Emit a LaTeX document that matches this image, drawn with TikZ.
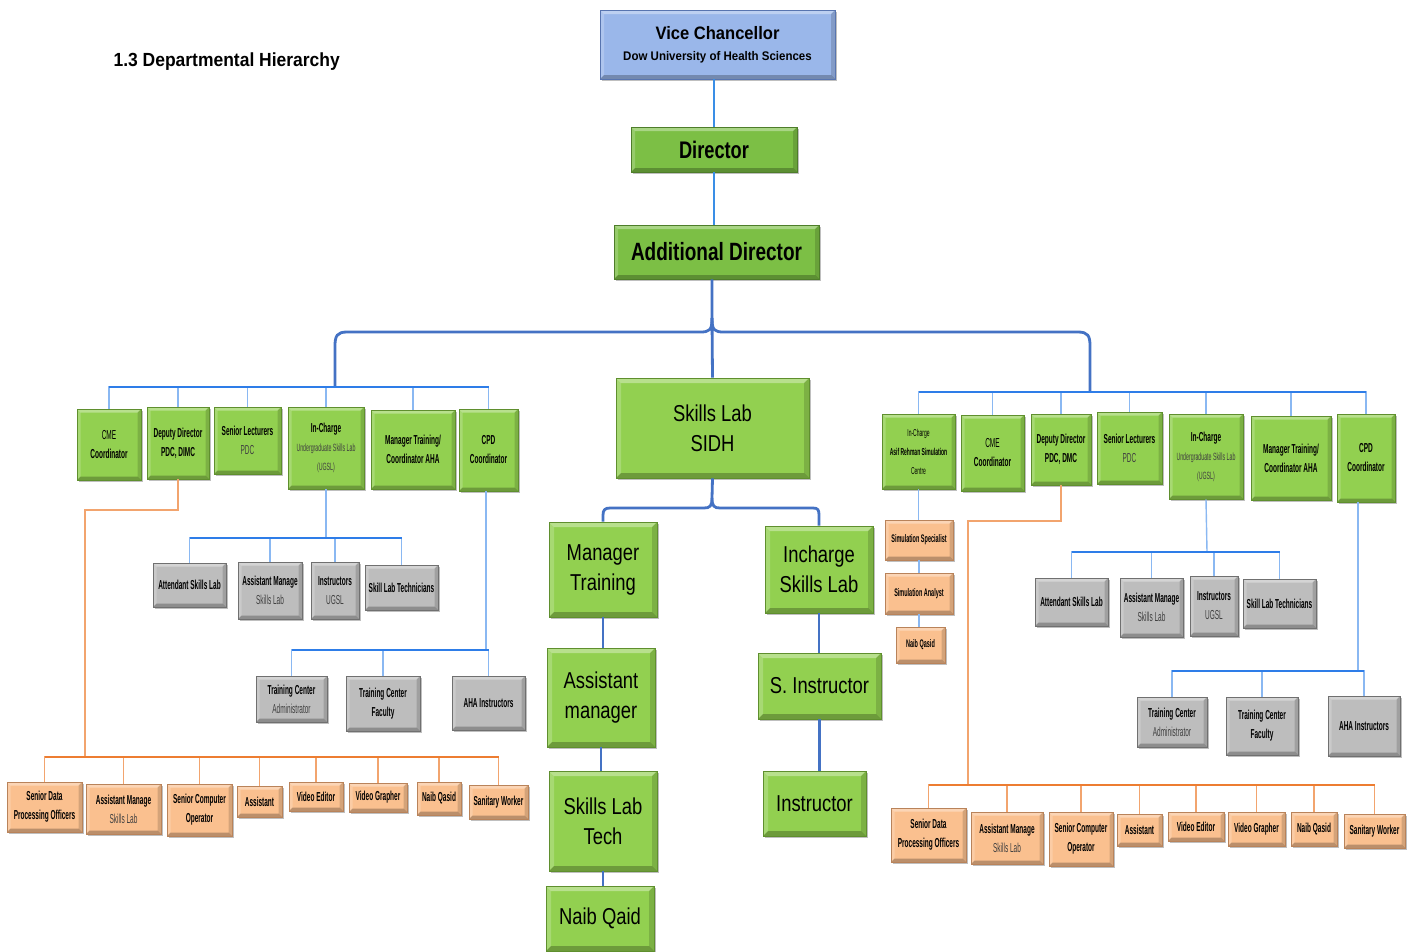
\documentclass[tikz,border=0pt]{standalone}
\usepackage{fontspec}
\setmainfont{Liberation Sans}
\newfontfamily\fnar{Liberation Sans}[FakeStretch=0.5]
\newfontfamily\fmed{Liberation Sans}[FakeStretch=0.8]
\newfontfamily\fdir{Liberation Sans}[FakeStretch=0.76]
\newfontfamily\fvc{Liberation Sans}[FakeStretch=0.92]
\usetikzlibrary{shadows}
\definecolor{cgreen}{HTML}{92D050}
\definecolor{cgreenD}{HTML}{5F8F2E}
\definecolor{cdir}{HTML}{7CBF45}
\definecolor{cdirD}{HTML}{4E7D2A}
\definecolor{cvc}{HTML}{9AB7EA}
\definecolor{cvcD}{HTML}{5875B0}
\definecolor{cgray}{HTML}{BDBDBD}
\definecolor{cgrayD}{HTML}{707070}
\definecolor{corange}{HTML}{FAC08F}
\definecolor{corangeD}{HTML}{B9835A}
\definecolor{clight}{HTML}{8AB8F2}
\definecolor{cbus}{HTML}{2E7DE8}
\definecolor{cheavy}{HTML}{4472C4}
\definecolor{ctop}{HTML}{3A8EE6}
\definecolor{corl}{HTML}{F2A46E}
\definecolor{corb}{HTML}{ED7D31}
\definecolor{subtxt}{HTML}{404040}
\newcommand{\hb}[1]{\textbf{#1}}
\newcommand{\lt}[1]{{\color{subtxt}\mdseries #1}}
\newcommand{\mybox}[7]{\node[#1, minimum width={#5-#3}, minimum height={#6-#4}] (#2) at ({(#3+#5)/2},{(#4+#6)/2}) {#7};}
\tikzset{
  bevel/.style={path picture={
    \fill[white,opacity=0.35] (path picture bounding box.north west) -- (path picture bounding box.north east)
      -- ([xshift=-#1,yshift=-#1]path picture bounding box.north east) -- ([xshift=#1,yshift=-#1]path picture bounding box.north west) -- cycle;
    \fill[white,opacity=0.2] (path picture bounding box.north west) -- (path picture bounding box.south west)
      -- ([xshift=#1,yshift=#1]path picture bounding box.south west) -- ([xshift=#1,yshift=-#1]path picture bounding box.north west) -- cycle;
    \fill[black,opacity=0.25] (path picture bounding box.south west) -- (path picture bounding box.south east)
      -- ([xshift=-#1,yshift=#1]path picture bounding box.south east) -- ([xshift=#1,yshift=#1]path picture bounding box.south west) -- cycle;
    \fill[black,opacity=0.15] (path picture bounding box.north east) -- (path picture bounding box.south east)
      -- ([xshift=-#1,yshift=#1]path picture bounding box.south east) -- ([xshift=-#1,yshift=-#1]path picture bounding box.north east) -- cycle;
  }},
  box/.style={draw, line width=0.9pt, inner sep=1pt, align=center, bevel=3.5pt,
    drop shadow={shadow xshift=1.6pt,shadow yshift=-1.6pt,opacity=0.5}},
  smallfont/.style={font=\fnar\fontsize{13}{19}\selectfont},
  grn/.style={box, fill=cgreen, draw=cgreenD, smallfont},
  gry/.style={box, fill=cgray, draw=cgrayD, smallfont},
  org/.style={box, fill=corange, draw=corangeD, smallfont},
  orgs/.style={box, fill=corange, draw=corangeD, font=\fnar\fontsize{11}{14}\selectfont},
  big/.style={box, bevel=5pt, fill=cgreen, draw=cgreenD, font=\fmed\fontsize{23}{30}\selectfont},
  dirbox/.style={box, bevel=4pt, fill=cdir, draw=cdirD, font=\fdir\fontsize{24}{28}\selectfont\bfseries},
  vcbox/.style={box, bevel=4pt, fill=cvc, draw=cvcD, font=\fvc\bfseries},
  ln/.style={draw=clight, line width=1.4pt},
  bus/.style={draw=cbus, line width=2pt},
  hv/.style={draw=cheavy, line width=2.8pt},
  topl/.style={draw=ctop, line width=1.6pt},
  orl/.style={draw=corl, line width=1.4pt},
  orb/.style={draw=corb, line width=2.4pt},
}
\begin{document}
\begin{tikzpicture}[x=1pt,y=-1pt]
\useasboundingbox (0,0) rectangle (1419,951);
\fill[white] (0,0) rectangle (1419,951);

\node[font=\fvc\fontsize{19}{22}\selectfont\bfseries, anchor=west] (title) at (110,62) {1.3 Departmental Hierarchy};

% top
\mybox{vcbox}{vc}{600}{10}{835}{79}{\fontsize{18}{24}\selectfont Vice Chancellor\\[9pt]\fontsize{12.5}{15}\selectfont Dow University of Health Sciences}
\mybox{dirbox}{dir}{631}{127}{797}{172}{Director}
\mybox{dirbox}{add}{614}{225}{819}{279}{\fontsize{25}{28}\selectfont Additional Director}

% centre column
\mybox{big}{sidh}{616}{378}{809}{478}{Skills Lab\\SIDH}
\mybox{big}{mt}{549}{522}{657}{617}{Manager\\Training}
\mybox{big}{am}{547}{648}{655}{747}{Assistant\\manager}
\mybox{big}{slt}{549}{771}{657}{871}{Skills Lab\\Tech}
\mybox{big}{nq}{546}{886}{654}{951}{Naib Qaid}
\mybox{big}{inc}{765}{526}{873}{613}{Incharge\\Skills Lab}
\mybox{big}{si}{758}{653}{881}{719}{S. Instructor}
\mybox{big}{ins}{763}{771}{866}{836}{Instructor}

% left green
\mybox{grn}{Lcme}{77}{409}{141}{480}{CME\\\hb{Coordinator}}
\mybox{grn}{Ldd}{147}{407}{209}{479}{\hb{Deputy Director}\\\hb{PDC, DIMC}}
\mybox{grn}{Lsl}{214}{407}{281}{474}{\hb{Senior Lecturers}\\\lt{PDC}}
\mybox{grn}{Lug}{288}{407}{364}{489}{\hb{In-Charge}\\\lt{\fontsize{10.5}{19}\selectfont Undergraduate Skills Lab}\\\lt{\fontsize{10.5}{19}\selectfont (UGSL)}}
\mybox{grn}{Lmt}{371}{410}{455}{489}{\hb{Manager Training/}\\\hb{Coordinator AHA}}
\mybox{grn}{Lcpd}{459}{409}{518}{491}{\hb{CPD}\\\hb{Coordinator}}

% left gray
\mybox{gry}{Lg1}{153}{563}{226}{607}{\hb{Attendant Skills Lab}}
\mybox{gry}{Lg2}{238}{562}{302}{619}{\hb{Assistant Manage}\\\lt{Skills Lab}}
\mybox{gry}{Lg3}{311}{562}{359}{619}{\hb{Instructors}\\\lt{UGSL}}
\mybox{gry}{Lg4}{365}{565}{438}{610}{\hb{Skill Lab Technicians}}
\mybox{gry}{Lt1}{256}{676}{327}{722}{\hb{Training Center}\\\lt{Administrator}}
\mybox{gry}{Lt2}{346}{676}{420}{731}{\hb{Training Center}\\\hb{Faculty}}
\mybox{gry}{Lt3}{452}{676}{525}{730}{\hb{AHA Instructors}}

% left orange
\mybox{org}{Lo1}{7}{782}{82}{832}{\hb{Senior Data}\\\hb{Processing Officers}}
\mybox{org}{Lo2}{86}{784}{161}{834}{\hb{Assistant Manage}\\\lt{Skills Lab}}
\mybox{org}{Lo3}{167}{784}{232}{836}{\hb{Senior Computer}\\\hb{Operator}}
\mybox{org}{Lo4}{237}{786}{282}{817}{\hb{Assistant}}
\mybox{org}{Lo5}{289}{782}{343}{811}{\hb{Video Editor}}
\mybox{org}{Lo6}{349}{783}{407}{812}{\hb{Video Grapher}}
\mybox{org}{Lo7}{417}{782}{461}{815}{\hb{Naib Qasid}}
\mybox{org}{Lo8}{469}{785}{528}{819}{\hb{Sanitary Worker}}

% right green
\mybox{grn}{Rasif}{882}{414}{955}{489}{\fontsize{10}{17}\selectfont In-Charge\\\fontsize{10}{17}\selectfont\hb{Asif Rehman Simulation}\\\fontsize{10}{17}\selectfont Centre}
\mybox{grn}{Rcme}{961}{415}{1024}{491}{CME\\\hb{Coordinator}}
\mybox{grn}{Rdd}{1031}{414}{1091}{485}{\hb{Deputy Director}\\\hb{PDC, DMC}}
\mybox{grn}{Rsl}{1097}{412}{1162}{484}{\hb{Senior Lecturers}\\\lt{PDC}}
\mybox{grn}{Rug}{1169}{414}{1243}{499}{\hb{In-Charge}\\\lt{\fontsize{10.5}{19}\selectfont Undergraduate Skills Lab}\\\lt{\fontsize{10.5}{19}\selectfont (UGSL)}}
\mybox{grn}{Rmt}{1251}{416}{1331}{500}{\hb{Manager Training/}\\\hb{Coordinator AHA}}
\mybox{grn}{Rcpd}{1337}{414}{1395}{502}{\hb{CPD}\\\hb{Coordinator}}

% right simulation chain
\mybox{orgs}{Rs1}{885}{520}{953}{560}{\hb{Simulation Specialist}}
\mybox{orgs}{Rs2}{885}{573}{953}{614}{\hb{Simulation Analyst}}
\mybox{orgs}{Rs3}{896}{627}{945}{663}{\hb{Naib Qasid}}

% right gray
\mybox{gry}{Rg1}{1035}{578}{1108}{626}{\hb{Attendant Skills Lab}}
\mybox{gry}{Rg2}{1120}{578}{1183}{637}{\hb{Assistant Manage}\\\lt{Skills Lab}}
\mybox{gry}{Rg3}{1190}{576}{1238}{636}{\hb{Instructors}\\\lt{UGSL}}
\mybox{gry}{Rg4}{1243}{579}{1316}{628}{\hb{Skill Lab Technicians}}
\mybox{gry}{Rt1}{1137}{697}{1207}{747}{\hb{Training Center}\\\lt{Administrator}}
\mybox{gry}{Rt2}{1226}{697}{1298}{755}{\hb{Training Center}\\\hb{Faculty}}
\mybox{gry}{Rt3}{1328}{696}{1400}{756}{\hb{AHA Instructors}}

% right orange
\mybox{org}{Ro1}{891}{808}{966}{862}{\hb{Senior Data}\\\hb{Processing Officers}}
\mybox{org}{Ro2}{971}{812}{1043}{864}{\hb{Assistant Manage}\\\lt{Skills Lab}}
\mybox{org}{Ro3}{1049}{812}{1113}{866}{\hb{Senior Computer}\\\hb{Operator}}
\mybox{org}{Ro4}{1117}{814}{1162}{846}{\hb{Assistant}}
\mybox{org}{Ro5}{1168}{812}{1224}{841}{\hb{Video Editor}}
\mybox{org}{Ro6}{1228}{812}{1285}{846}{\hb{Video Grapher}}
\mybox{org}{Ro7}{1291}{812}{1337}{846}{\hb{Naib Qasid}}
\mybox{org}{Ro8}{1344}{814}{1405}{848}{\hb{Sanitary Worker}}

% coordinates
\coordinate (LB) at (335,387);
\coordinate (RB) at (1090,392);
\coordinate (brC) at (712,318);
\coordinate (sbC) at (712,498);
\coordinate (LGB) at (326,538);
\coordinate (LTB) at (486,650);
\coordinate (LOb) at (85,510);
\coordinate (LOB) at (85,757);
\coordinate (RGB) at (1207,552);
\coordinate (RTB) at (1358,671);
\coordinate (ROb) at (968,521);
\coordinate (ROB) at (968,785);

% top connectors
\draw[topl] (dir.north |- vc.south) -- (dir.north);
\draw[topl] (dir.south) -- (dir.south |- add.north);

% heavy braces
\draw[hv] (brC |- add.south) -- (brC) -- (sidh.north);
\draw[hv] (brC) .. controls (712,330) and (710,332) .. (700,332) -- (347,332) .. controls (337,332) and (335,336) .. (335,346) -- (LB);
\draw[hv] (brC) .. controls (712,330) and (714,332) .. (724,332) -- (1078,332) .. controls (1088,332) and (1090,336) .. (1090,346) -- (RB);
\draw[hv] (sidh.south) -- (sbC);
\draw[hv] (sbC) .. controls (712,506) and (710,508) .. (704,508) -- (610,508) .. controls (605,508) and (603,510) .. (603,515) -- (mt.north);
\draw[hv] (sbC) .. controls (712,506) and (714,508) .. (720,508) -- (813,508) .. controls (818,508) and (819,510) .. (819,515) -- (inc.north);
\draw[hv] (mt.south) -- (mt.south |- am.north);
\draw[hv] (am.south) -- (am.south |- slt.north);
\draw[hv] (slt.south) -- (slt.south |- nq.north);
\draw[hv] (inc.south) -- (inc.south |- si.north);
\draw[hv] (si.south) -- (si.south |- ins.north);

% left green group
\foreach \n in {Lcme,Ldd,Lsl,Lug,Lmt,Lcpd} \draw[ln] (LB) -| (\n.north);
\draw[bus] (Lcme.north |- LB) -- (Lcpd.north |- LB);
% left gray
\draw[ln] (Lug.south) -- (LGB);
\foreach \n in {Lg1,Lg2,Lg3,Lg4} \draw[ln] (LGB) -| (\n.north);
\draw[bus] (Lg1.north |- LGB) -- (Lg4.north |- LGB);
\draw[ln] (Lcpd.south -| LTB) -- (LTB);
\foreach \n in {Lt1,Lt2,Lt3} \draw[ln] (LTB) -| (\n.north);
\draw[bus] (Lt1.north |- LTB) -- (Lt3.north |- LTB);
% left orange
\draw[orl] (Ldd.south) |- (LOb) -- (LOB);
\foreach \n in {Lo1,Lo2,Lo3,Lo4,Lo5,Lo6,Lo7,Lo8} \draw[orl] (LOB) -| (\n.north);
\draw[orb] (Lo1.north |- LOB) -- (Lo8.north |- LOB);

% right green group
\foreach \n in {Rasif,Rcme,Rdd,Rsl,Rug,Rmt,Rcpd} \draw[ln] (RB) -| (\n.north);
\draw[bus] (Rasif.north |- RB) -- (Rcpd.north |- RB);
\draw[ln] (Rasif.south) -- (Rasif.south |- Rs1.north);
\draw[ln] (Rs1.south) -- (Rs1.south |- Rs2.north);
\draw[ln] (Rs2.south) -- (Rs2.south |- Rs3.north);
% right gray
\draw[ln] (Rug.south) -- (RGB);
\foreach \n in {Rg1,Rg2,Rg3,Rg4} \draw[ln] (RGB) -| (\n.north);
\draw[bus] (Rg1.north |- RGB) -- (Rg4.north |- RGB);
\draw[ln] (Rcpd.south -| RTB) -- (RTB);
\foreach \n in {Rt1,Rt2,Rt3} \draw[ln] (RTB) -| (\n.north);
\draw[bus] (Rt1.north |- RTB) -- (Rt3.north |- RTB);
% right orange
\draw[orl] (Rdd.south) |- (ROb) -- (ROB);
\foreach \n in {Ro1,Ro2,Ro3,Ro4,Ro5,Ro6,Ro7,Ro8} \draw[orl] (ROB) -| (\n.north);
\draw[orb] (Ro1.north |- ROB) -- (Ro8.north |- ROB);
\end{tikzpicture}
\end{document}
